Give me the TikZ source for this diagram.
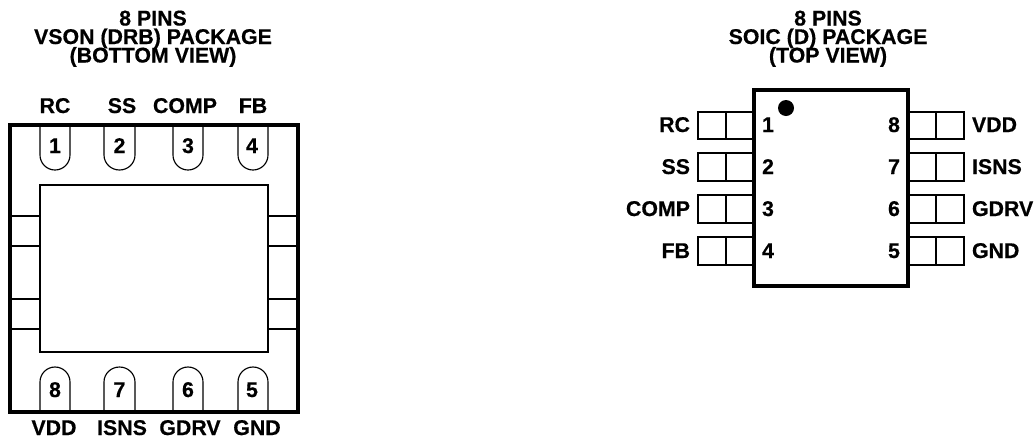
\documentclass[tikz,border=0pt]{standalone}
\usepackage{fontspec}
\setmainfont{Liberation Sans}[BoldFeatures={FakeBold=0.5}]
\tikzset{
  txt/.style={inner sep=0pt,outer sep=0pt,font=\fontsize{16pt}{13.9pt}\selectfont\bfseries},
  title/.style={txt,anchor=base,align=center},
  lblc/.style={txt,anchor=base},
  lblr/.style={txt,anchor=base east},
  lbll/.style={txt,anchor=base west},
  frame/.style={draw=black,line width=2.6pt,line join=miter},
  thin line/.style={draw=black,line width=0.85pt},
}
\begin{document}
\begin{tikzpicture}[x=0.75pt,y=-0.75pt]
\useasboundingbox (0,0) rectangle (1034,437);
% ---- titles
\foreach \n/\x/\y/\s in {ta1/153/25.5/8 PINS,ta2/153/44/VSON (DRB) PACKAGE,ta3/153/62.5/(BOTTOM VIEW),
                         tb1/828/25.5/8 PINS,tb2/828/44/SOIC (D) PACKAGE,tb3/828/62.5/(TOP VIEW)}
  \node[title] (\n) at (\x,\y) {\s};
% ---- VSON package
\draw[thin line] (40,185) rectangle (268,352);
\foreach \y in {216,246,299,329} {
  \draw[thin line] (10,\y) -- (40,\y);
  \draw[thin line] (268,\y) -- (298,\y);
}
\foreach \a/\b in {40/70,104/135,173/203,238/268} {
  \pgfmathsetmacro{\r}{(\b-\a)/2}
  \draw[thin line] (\a,125) -- (\a,155) arc[start angle=180,delta angle=180,x radius=\r,y radius=-15] -- (\b,125);
  \draw[thin line] (\a,412) -- (\a,382) arc[start angle=180,delta angle=-180,x radius=\r,y radius=-15] -- (\b,412);
}
\draw[frame] (10,125) rectangle (298,412);
\foreach \n/\x/\s in {a1/55/1,a2/119.5/2,a3/188/3,a4/252/4}
  \node[lblc] (\n) at (\x,153) {\s};
\foreach \n/\x/\s in {a8/55/8,a7/119.5/7,a6/188/6,a5/252/5}
  \node[lblc] (\n) at (\x,397) {\s};
\foreach \n/\x/\s in {pa1/55/RC,pa2/122/SS,pa3/185/COMP,pa4/253/FB}
  \node[lblc] (\n) at (\x,113) {\s};
\foreach \n/\x/\s in {pa8/54/VDD,pa7/122/ISNS,pa6/190/GDRV,pa5/257/GND}
  \node[lblc] (\n) at (\x,435) {\s};
% ---- SOIC package
\foreach \t/\b in {112/139,153/181,195/223,237/265} {
  \draw[thin line] (754,\t) -- (698,\t) -- (698,\b) -- (754,\b);
  \draw[thin line] (726,\t) -- (726,\b);
  \draw[thin line] (908,\t) -- (964,\t) -- (964,\b) -- (908,\b);
  \draw[thin line] (936,\t) -- (936,\b);
}
\draw[frame] (754,90) rectangle (908,286);
\fill[black] (786,108) circle[radius=8];
\foreach \n/\y/\s/\l/\m/\p/\q in {b/132/1/RC/8/VDD/h,c/174/2/SS/7/ISNS/i,d/216/3/COMP/6/GDRV/j,e/258/4/FB/5/GND/k} {
  \node[lblc] (n\n) at (768,\y) {\s};
  \node[lblr] (l\n) at (690,\y) {\l};
  \node[lblc] (n\q) at (894,\y) {\m};
  \node[lbll] (l\q) at (972,\y) {\p};
}
\end{tikzpicture}
\end{document}
